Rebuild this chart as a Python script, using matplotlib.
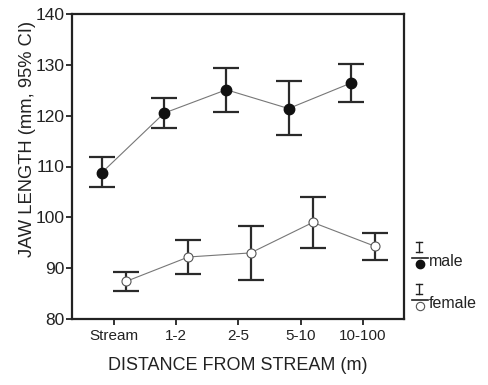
import matplotlib
matplotlib.use("Agg")
import matplotlib.pyplot as plt
from matplotlib.lines import Line2D
import numpy as np

plt.rcParams['font.family'] = ['Liberation Sans', 'DejaVu Sans']

categories = ["Stream", "1-2", "2-5", "5-10", "10-100"]
male_mean = [108.8, 120.5, 125.1, 121.4, 126.4]
male_low = [105.9, 117.5, 120.8, 116.2, 122.6]
male_high = [111.9, 123.4, 129.3, 126.8, 130.1]
female_mean = [87.4, 92.2, 93.0, 99.0, 94.3]
female_low = [85.6, 88.9, 87.7, 93.9, 91.7]
female_high = [89.2, 95.6, 98.3, 104.0, 96.9]

fig = plt.figure(figsize=(4.89, 3.85), dpi=100)
ax = fig.add_axes([72/489, 1-319/385, (404-72)/489, (319-14)/385])

x = np.arange(len(categories))
off = 0.195

def draw(xs, mean, low, high, filled):
    mean = np.array(mean); low = np.array(low); high = np.array(high)
    ax.errorbar(xs, mean, yerr=[mean-low, high-mean], fmt='none', ecolor='#2a2a2a',
                elinewidth=1.6, capsize=9.5, capthick=1.6, zorder=2)
    ax.plot(xs, mean, '-', color='#777777', lw=0.8, zorder=3)
    if filled:
        ax.plot(xs, mean, 'o', ms=7.5, mfc='#111111', mec='#111111', zorder=4)
    else:
        ax.plot(xs, mean, 'o', ms=6.5, mfc='white', mec='#555555', mew=0.8, zorder=4)

draw(x - off, male_mean, male_low, male_high, True)
draw(x + off, female_mean, female_low, female_high, False)

ax.set_xlim(-0.675, 4.66)
ax.set_ylim(80, 140)
ax.set_yticks([80, 90, 100, 110, 120, 130, 140])
ax.set_xticks(x)
ax.set_xticklabels(categories)
for s in ax.spines.values():
    s.set_linewidth(1.6)
    s.set_color('#222222')
ax.tick_params(direction='out', length=4, width=1.3, labelsize=12.5, colors='#222222', pad=1.5)
ax.tick_params(axis='x', labelsize=11, pad=3)
ax.set_ylabel("JAW LENGTH (mm, 95% CI)", fontsize=13.2, color='#222222')
ax.yaxis.set_label_coords(-0.108, 0.59)
ax.set_xlabel("DISTANCE FROM STREAM (m)", fontsize=13, color='#222222')
ax.xaxis.set_label_coords(0.5, (319-357)/305)

# custom legend
def fx(px): return px/489
def fy(py): return 1 - py/385

for (ybar, ycirc, label, filled) in [(258, 264, "male", True), (300, 306, "female", False)]:
    fig.add_artist(Line2D([fx(419), fx(419)], [fy(ybar-16), fy(ybar-6)], color='#222222', lw=1.0))
    fig.add_artist(Line2D([fx(416), fx(422)], [fy(ybar-16), fy(ybar-16)], color='#222222', lw=1.0))
    fig.add_artist(Line2D([fx(416), fx(422)], [fy(ybar-6), fy(ybar-6)], color='#222222', lw=1.0))
    fig.add_artist(Line2D([fx(412), fx(428)], [fy(ybar), fy(ybar)], color='#222222', lw=1.2))
    if filled:
        fig.add_artist(Line2D([fx(420)], [fy(ycirc)], marker='o', ms=6, mfc='#111111', mec='#111111'))
    else:
        fig.add_artist(Line2D([fx(420)], [fy(ycirc)], marker='o', ms=6, mfc='none', mec='#555555', mew=0.8))
    fig.text(fx(429), fy(ycirc-3), label, fontsize=11.5, va='center', ha='left', color='#222222')

fig.savefig("out.png", dpi=100)
